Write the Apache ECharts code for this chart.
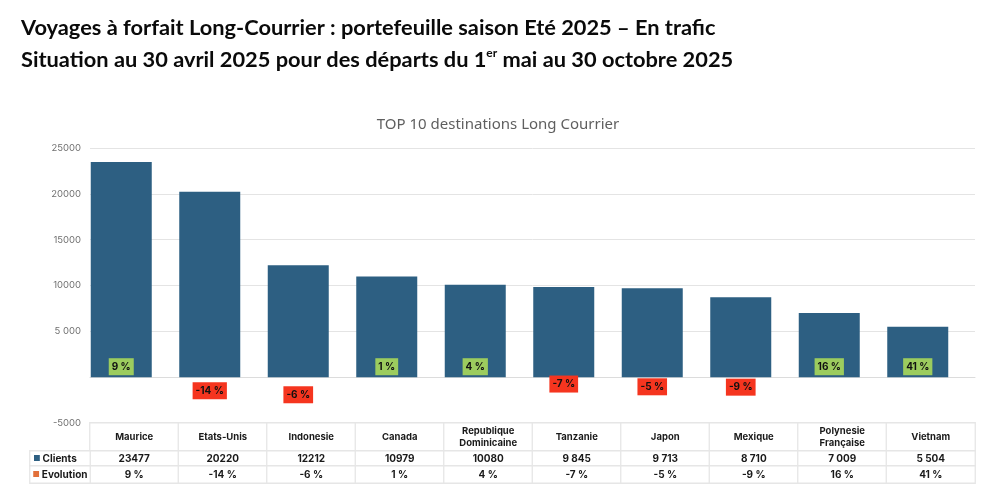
<!DOCTYPE html>
<html><head><meta charset="utf-8"><style>html,body{margin:0;padding:0;background:#fff}#c{width:1000px;height:500px}</style>
<script src="https://cdn.jsdelivr.net/npm/echarts@6/dist/echarts.min.js"></script></head>
<body><div id="c"></div>
<script>
const categories = ['Maurice','Etats-Unis','Indonesie','Canada','Republique\nDominicaine','Tanzanie','Japon','Mexique','Polynesie\nFrançaise','Vietnam'];
const clients = [23477,20220,12212,10979,10080,9845,9713,8710,7009,5504];
const clientLabels = ['23477','20220','12212','10979','10080','9 845','9 713','8 710','7 009','5 504'];
const evolution = [9,-14,-6,1,4,-7,-5,-9,16,41];
const badgeHeights = [1140,-1470,-1920,1140,1140,-750,-1050,-1090,1140,1140];

const BLUE='#2d5f82', GREY='#e6e6e6', TXT='#1a1a1a', TF='Inter, "DejaVu Sans", sans-serif';
const evoLabels = evolution.map(v => v + ' %');
const rows = [
  {top:423,h:28,texts:categories,size:9.5},
  {top:451,h:15,texts:clientLabels,size:10},
  {top:466,h:17,texts:evoLabels,size:10}
];
// grid 0: gridlines and tick labels; grid 1: bars, same scale, shifted left as in the reference
const grids=[{left:90,right:25,top:148,height:275},{left:77,width:885,top:148,height:275}];
const xAxes=[
  {type:'category',data:categories,gridIndex:0,axisTick:{show:false},axisLabel:{show:false},
   axisLine:{lineStyle:{color:'#dcdcdc',width:1}}},
  {type:'category',data:categories,gridIndex:1,show:false}
];
const yAxes=[
  {type:'value',gridIndex:0,min:-5000,max:25000,interval:5000,
   axisLine:{show:false},axisTick:{show:false},splitLine:{lineStyle:{color:'#e4e4e4',width:1}},
   axisLabel:{color:'#707070',fontSize:9.5,fontFamily:TF,margin:9,
     formatter:v=>v===0?'':(v===5000?'5 000':String(v))}},
  {type:'value',gridIndex:1,min:-5000,max:25000,interval:5000,show:false,splitLine:{show:false}}
];
const series=[
  {type:'bar',xAxisIndex:1,yAxisIndex:1,data:clients,barWidth:61,itemStyle:{color:BLUE},silent:true,z:3},
  {type:'scatter',xAxisIndex:1,yAxisIndex:1,symbolSize:0,silent:true,z:5,
   itemStyle:{opacity:1},
   data:badgeHeights.map((h,i)=>({value:[i,h],label:{backgroundColor:evolution[i]<0?'#f5351f':'#9ccc5e'}})),
   label:{show:true,position:'inside',opacity:1,
     formatter:p=>evoLabels[p.dataIndex],
     fontFamily:TF,fontWeight:700,fontSize:10,color:'#111',padding:[4,3,3,3]}}
];

function addGrid(left,width,top,h,cats,texts,size,formatter,rich){
  const g=grids.length;
  grids.push({left:left,width:width,top:top,height:h});
  xAxes.push({type:'category',gridIndex:g,data:cats,show:false});
  yAxes.push({type:'category',gridIndex:g,data:['r'],show:false});
  series.push({type:'heatmap',xAxisIndex:g,yAxisIndex:g,silent:true,
    data:texts.map((t,i)=>[i,0,1]),
    itemStyle:{color:'#fff',borderColor:GREY,borderWidth:1.3},
    emphasis:{disabled:true},
    label:{show:true,color:TXT,fontFamily:TF,fontWeight:700,fontSize:size,lineHeight:size+3,
      formatter:formatter||(p=>texts[p.dataIndex]),rich:rich}});
}
rows.forEach(r=>addGrid(90,885,r.top,r.h,categories,r.texts,r.size));
const rich=(pad)=>({b:{color:BLUE,fontSize:8},o:{color:'#e2703a',fontSize:8},
  t:{color:TXT,fontFamily:TF,fontWeight:700,fontSize:10,padding:[0,pad,0,2]}});
addGrid(30,60,451,15,['Clients'],['Clients'],10,()=>'{b|■}{t|Clients}',rich(10));
addGrid(30,60,466,17,['Evolution'],['Evolution'],10,()=>'{o|■}{t|Evolution}',rich(0));

const chart=echarts.init(document.getElementById('c'),null,{renderer:'canvas'});
chart.setOption({
  animation:false,backgroundColor:'#fff',
  title:[
    {text:'Voyages à forfait Long-Courrier : portefeuille saison Eté 2025 – En trafic',left:21,top:17,padding:0,
     textStyle:{fontFamily:'Lato',fontWeight:700,fontSize:21.8,color:'#0a0a0a'}},
    {text:'Situation au 30 avril 2025 pour des départs du 1{s|er} mai au 30 octobre 2025',left:21,top:47,padding:0,
     textStyle:{fontFamily:'Lato',fontWeight:700,fontSize:21.8,color:'#0a0a0a',
       rich:{s:{fontFamily:'Lato',fontWeight:700,fontSize:12,color:'#0a0a0a',verticalAlign:'top',lineHeight:26,padding:[0,0,8,0]}}}},
    {text:'TOP 10 destinations Long Courrier',left:498,textAlign:'center',top:117,padding:0,
     textStyle:{fontFamily:'"Noto Sans"',fontWeight:400,fontSize:15,color:'#5f5f5f'}}
  ],
  grid:grids,xAxis:xAxes,yAxis:yAxes,series:series
});
</script></body></html>
